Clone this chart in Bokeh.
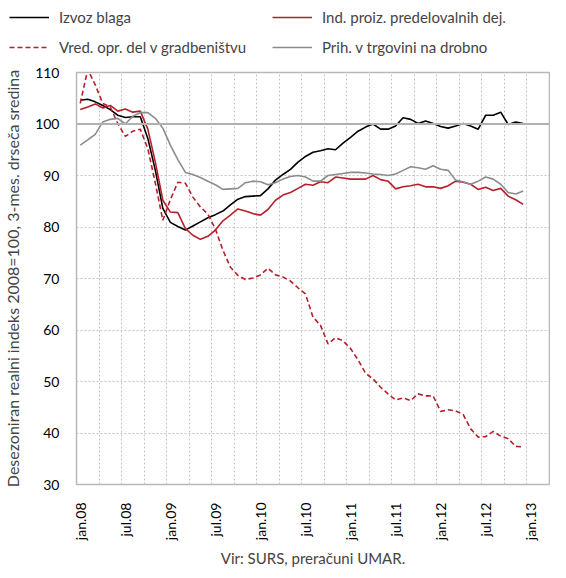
from math import pi
from bokeh.plotting import figure
from bokeh.layouts import column
from bokeh.models import FixedTicker, Span, Legend, LegendItem, Range1d
from bokeh.embed import file_html
from bokeh.resources import INLINE

# ---------------- data (monthly, jan.08 .. dec.12) ----------------
tick_labels = ["jan.08", "jul.08", "jan.09", "jul.09", "jan.10", "jul.10",
               "jan.11", "jul.11", "jan.12", "jul.12", "jan.13"]
tick_positions = [0, 6, 12, 18, 24, 30, 36, 42, 48, 54, 60]
n_slots = 63  # jan.08 .. mar.13 category slots on the axis

izvoz_blaga = [104.6, 104.8, 104.3, 103.6, 102.8, 101.7, 101.25, 101.4, 101.4, 97.2,
               91.0, 83.6, 80.9, 80.1, 79.4, 80.2, 81.0, 81.8, 82.4, 83.1,
               84.3, 85.4, 85.9, 86.0, 86.1, 87.4, 89.1, 90.2, 91.2, 92.6,
               93.7, 94.5, 94.8, 95.2, 95.0, 96.3, 97.4, 98.6, 99.4, 100.0,
               99.0, 99.0, 99.6, 101.2, 100.9, 100.1, 100.6, 100.1, 99.5, 99.2,
               99.6, 100.1, 99.6, 99.0, 101.7, 101.7, 102.3, 99.9, 100.4, 100.1]

ind_proiz = [102.8, 103.3, 103.9, 103.1, 103.6, 102.5, 102.9, 102.3, 102.5, 99.0,
             92.6, 85.2, 82.9, 82.8, 79.7, 78.4, 77.6, 78.2, 79.4, 81.2,
             82.3, 83.5, 83.1, 82.6, 82.3, 83.4, 85.2, 86.2, 86.7, 87.5,
             88.3, 88.1, 88.8, 88.6, 89.7, 89.5, 89.3, 89.3, 89.3, 90.0,
             89.2, 88.9, 87.4, 87.8, 88.0, 88.3, 87.8, 87.8, 87.5, 88.0,
             88.9, 88.7, 88.3, 87.3, 87.7, 87.1, 87.5, 86.0, 85.3, 84.4]

vred_gradb = [104.0, 110.6, 107.6, 104.0, 103.3, 100.1, 97.6, 98.6, 99.0, 95.2,
              88.5, 81.3, 85.3, 88.7, 88.5, 85.8, 83.9, 82.5, 79.6, 75.5,
              72.2, 70.6, 69.8, 70.1, 70.7, 72.0, 70.7, 70.3, 69.5, 68.2,
              67.0, 62.5, 60.9, 57.3, 58.5, 57.9, 56.4, 54.2, 51.6, 50.5,
              48.9, 47.6, 46.4, 46.8, 46.3, 47.6, 47.2, 47.2, 44.2, 44.5,
              44.3, 43.6, 40.8, 39.2, 39.3, 40.3, 39.4, 38.9, 37.4, 37.3]

prih_trg = [95.9, 96.9, 98.0, 100.4, 100.9, 101.1, 100.0, 101.5, 102.2, 102.2,
            101.1, 99.2, 95.9, 93.1, 90.6, 90.2, 89.6, 88.9, 88.2, 87.3,
            87.4, 87.5, 88.6, 88.9, 88.8, 88.2, 88.6, 89.3, 89.8, 90.0,
            89.7, 88.9, 88.9, 90.0, 90.2, 90.4, 90.6, 90.6, 90.5, 90.3,
            90.2, 90.0, 90.3, 91.0, 91.7, 91.5, 91.2, 91.9, 91.2, 91.0,
            89.1, 88.8, 88.3, 88.9, 89.7, 89.3, 88.3, 86.7, 86.4, 87.0]

y_ticks = [30, 40, 50, 60, 70, 80, 90, 100, 110]

series = [
    ("Izvoz blaga", izvoz_blaga, "black", None),
    ("Ind. proiz. predelovalnih dej.", ind_proiz, "#b5202a", None),
    ("Vred. opr. del v gradbeništvu", vred_gradb, "#b5202a", "5 3"),
    ("Prih. v trgovini na drobno", prih_trg, "#8c8c8c", None),
]

FONT = "Lato"
x = list(range(len(izvoz_blaga)))

# ---------------- main chart ----------------
p = figure(width=550, height=506, output_backend="svg", toolbar_location=None,
           x_range=Range1d(-0.5, n_slots - 0.5), y_range=Range1d(30, 110),
           min_border_left=71, min_border_right=1, min_border_top=8,
           min_border_bottom=86)
p.frame_align = False
p.background_fill_color = "white"
p.border_fill_color = "white"
p.outline_line_color = "#b8b8b8"
p.outline_line_width = 1.5

for name, vals, col, dash in series:
    kw = {"line_dash": dash} if dash else {}
    p.line(x, vals, line_color=col, line_width=1.6, **kw)

p.add_layout(Span(location=100, dimension="width", line_color="#b0b0b0",
                  line_width=2), "center")

p.xaxis.ticker = FixedTicker(ticks=tick_positions)
p.xaxis.major_label_overrides = {t: l for t, l in zip(tick_positions, tick_labels)}
p.xaxis.major_label_orientation = pi / 2
p.xaxis.major_label_text_font = FONT
p.xaxis.major_label_text_font_size = "14px"
p.xaxis.major_label_text_color = "black"
p.xaxis.major_label_standoff = 18
p.xaxis.axis_label = "Vir: SURS, preračuni UMAR."
p.xaxis.axis_label_text_font = FONT
p.xaxis.axis_label_text_font_size = "15px"
p.xaxis.axis_label_text_font_style = "normal"
p.xaxis.axis_label_standoff = 6
p.xaxis.axis_line_color = None
p.xaxis.major_tick_line_color = None
p.xaxis.minor_tick_line_color = None
p.xaxis.major_tick_out = 0
p.xaxis.major_tick_in = 0

p.yaxis.ticker = FixedTicker(ticks=y_ticks)
p.yaxis.major_label_text_font = FONT
p.yaxis.major_label_text_font_size = "14px"
p.yaxis.major_label_text_color = "black"
p.yaxis.major_label_standoff = 17
p.yaxis.axis_label = "Desezoniran realni indeks 2008=100, 3-mes. drseča sredina"
p.yaxis.axis_label_text_font = FONT
p.yaxis.axis_label_text_font_size = "16px"
p.yaxis.axis_label_text_font_style = "normal"
p.yaxis.axis_label_standoff = 10
p.yaxis.axis_line_color = None
p.yaxis.major_tick_line_color = None
p.yaxis.minor_tick_line_color = None
p.yaxis.major_tick_out = 0
p.yaxis.major_tick_in = 0

p.xgrid.ticker = FixedTicker(ticks=[k - 0.5 for k in range(3, n_slots, 3)])
p.ygrid.ticker = FixedTicker(ticks=y_ticks)
for g in (p.xgrid, p.ygrid):
    g.grid_line_color = "#c4c4c4"
    g.grid_line_dash = "2 2"
    g.grid_line_width = 1

# ---------------- legend strip (same series, ranges keep the lines off-view) ----------------
lf = figure(width=550, height=64, output_backend="svg", toolbar_location=None,
            x_range=Range1d(-0.5, n_slots - 0.5), y_range=Range1d(500, 510),
            min_border=0, x_axis_type=None, y_axis_type=None)
lf.frame_align = False
lf.outline_line_color = None
lf.background_fill_color = "white"
lf.border_fill_color = "white"
lf.xgrid.visible = False
lf.ygrid.visible = False

leg_r = {}
for name, vals, col, dash in series:
    kw = {"line_dash": dash} if dash else {}
    leg_r[name] = lf.line(x, vals, line_color=col, line_width=1.6, **kw)


def make_legend(names, loc):
    return Legend(items=[LegendItem(label=n, renderers=[leg_r[n]]) for n in names],
                  location=loc, orientation="vertical",
                  glyph_width=40, glyph_height=18, label_height=18, spacing=12,
                  padding=0, margin=0, label_standoff=10,
                  label_text_font=FONT, label_text_font_size="15px",
                  border_line_color=None, background_fill_alpha=0)


lf.add_layout(make_legend(["Izvoz blaga", "Vred. opr. del v gradbeništvu"], (9, 8)), "center")
lf.add_layout(make_legend(["Ind. proiz. predelovalnih dej.", "Prih. v trgovini na drobno"], (272, 8)), "center")

layout = column(lf, p, spacing=0)
open("out.html", "w").write(file_html(layout, INLINE))
